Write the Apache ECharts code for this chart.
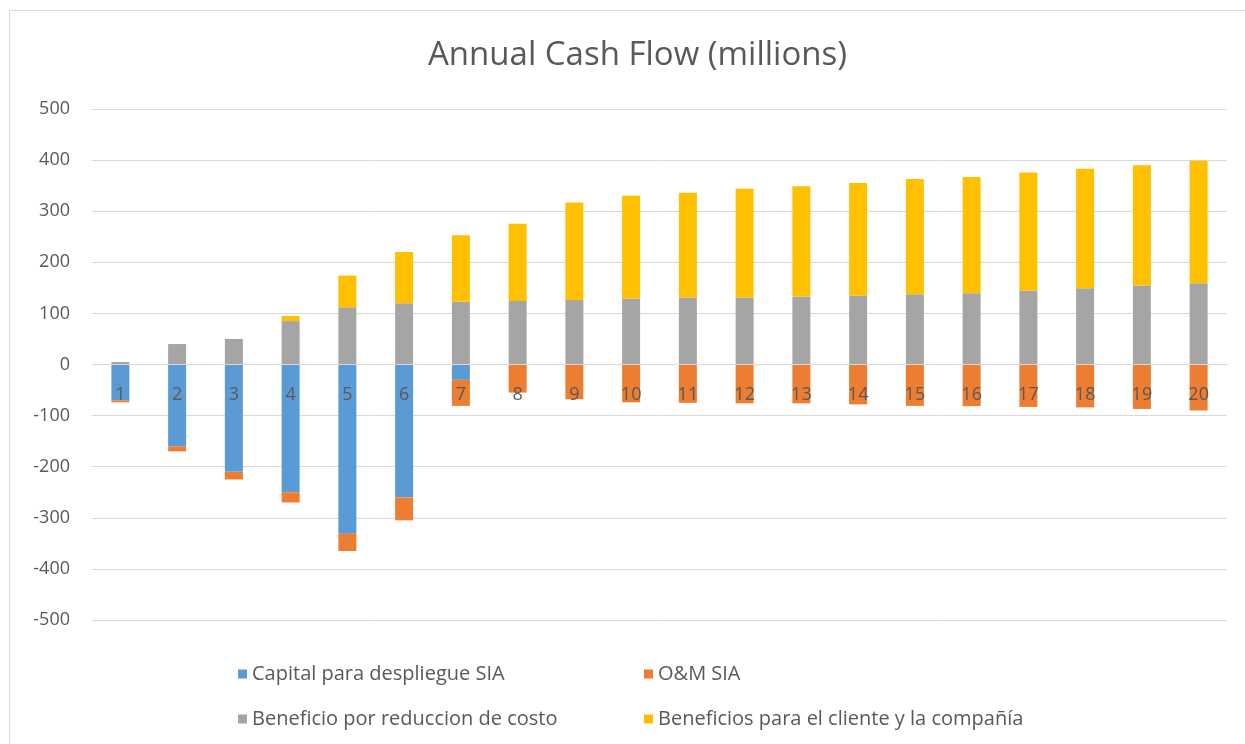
<!DOCTYPE html>
<html>
<head>
<meta charset="utf-8">
<script src="https://cdn.jsdelivr.net/npm/echarts@6/dist/echarts.min.js"></script>
<style>
  html, body { margin: 0; padding: 0; background: #fff; }
  #chart { width: 1245px; height: 744px; }
</style>
</head>
<body>
<div id="chart"></div>
<script>
const years = ['1','2','3','4','5','6','7','8','9','10','11','12','13','14','15','16','17','18','19','20']
const capital = [-70, -160, -210, -250, -331, -260, -30, 0, 0, 0, 0, 0, 0, 0, 0, 0, 0, 0, 0, 0]
const omSia = [-4, -10, -15, -20, -34, -45, -51, -55, -68, -74, -75, -76, -76, -78, -81, -81.5, -83, -84, -87, -90]
const costReduction = [5, 40, 50, 85, 112, 120, 123, 124.5, 126, 129, 131, 131, 133, 135, 137.5, 139.5, 145, 149, 154.5, 159]
const clientBenefit = [0, 0, 0, 10, 62, 100, 130, 151, 191, 201, 205, 213, 216, 220, 225.5, 227.5, 230.5, 234, 235.5, 239.5]
const yTicks = { min: -500, max: 500, step: 100 }

const names = ['Capital para despliegue SIA', 'O&M SIA', 'Beneficio por reduccion de costo', 'Beneficios para el cliente y la compañía']
const colors = ['#5B9BD5', '#ED7D31', '#A5A5A5', '#FFC000']
const font = 'Open Sans'
const txt = '#595959'

const chart = echarts.init(document.getElementById('chart'))

const mkSeries = (i, data) => ({
  name: names[i],
  type: 'bar',
  stack: 'cf',
  barWidth: 18,
  data: data,
  itemStyle: { color: colors[i] }
})

const legendBase = {
  orient: 'vertical',
  itemWidth: 9,
  itemHeight: 9,
  itemGap: 25,
  icon: 'rect',
  textStyle: { color: txt, fontSize: 20, fontFamily: font }
}

// grid: top 109, bottom 124 -> height 511, zero line sits in the middle
const gridTop = 109
const gridBottom = 124
const plotH = 744 - gridTop - gridBottom

const option = {
  animation: false,
  color: colors,
  title: {
    text: 'Annual Cash Flow (millions)',
    left: 423,
    top: 34,
    textStyle: { color: txt, fontSize: 33, fontWeight: 'normal', fontFamily: font }
  },
  graphic: [{
    type: 'rect',
    shape: { x: 9.5, y: 10.5, width: 1250, height: 750 },
    style: { fill: 'none', stroke: '#d9d9d9', lineWidth: 1 }
  }],
  legend: [
    Object.assign({ left: 233, top: 659, data: [names[0], names[2]] }, legendBase),
    Object.assign({ left: 639, top: 659, data: [names[1], names[3]] }, legendBase)
  ],
  grid: { left: 92, right: 18, top: gridTop, bottom: gridBottom },
  xAxis: {
    type: 'category',
    data: years,
    z: 10,
    position: 'bottom',
    offset: -plotH * (0 - yTicks.min) / (yTicks.max - yTicks.min),
    axisLine: { onZero: false, lineStyle: { color: '#d9d9d9' } },
    axisTick: { show: false },
    axisLabel: { color: txt, fontSize: 18, fontFamily: font, margin: 21 }
  },
  yAxis: {
    type: 'value',
    min: yTicks.min,
    max: yTicks.max,
    interval: yTicks.step,
    axisLine: { show: false },
    axisTick: { show: false },
    splitLine: { lineStyle: { color: '#d9d9d9' } },
    axisLabel: { color: txt, fontSize: 18, fontFamily: font, margin: 22 }
  },
  series: [
    mkSeries(0, capital),
    mkSeries(1, omSia),
    mkSeries(2, costReduction),
    mkSeries(3, clientBenefit)
  ]
}

chart.setOption(option)
</script>
</body>
</html>
